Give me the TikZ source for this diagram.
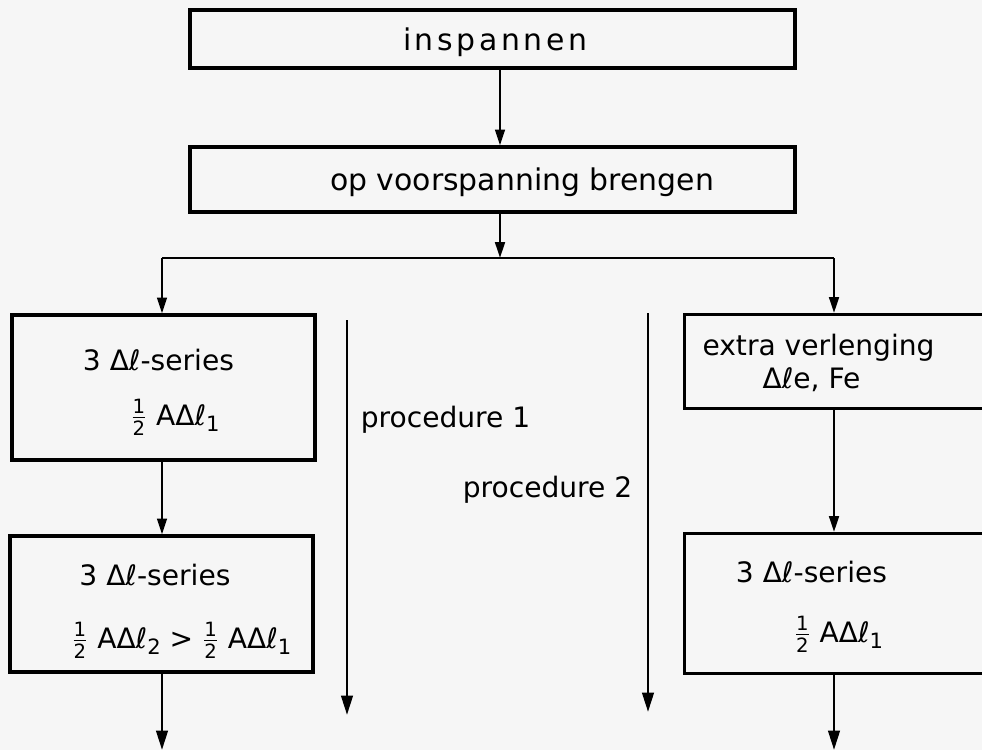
\documentclass[tikz,border=0pt]{standalone}
\usepackage{fontspec}
\setmainfont{DejaVu Sans}
\usepackage{amsmath}
\usetikzlibrary{arrows.meta}
\definecolor{paper}{RGB}{246,246,246}
\newcommand{\hlf}{\ensuremath{\tfrac{\text{1}}{\text{2}}}}
\newcommand{\idx}[1]{\raisebox{-.45ex}{\fontsize{12}{14}\selectfont#1}}

\tikzset{box/.style={draw,line width=1.8pt,inner sep=0pt},
  flow/.style={line width=1.4pt,-{Triangle[length=9pt,width=5.5pt]}},
  longflow/.style={line width=1.6pt,-{Triangle[length=11pt,width=6.5pt]}},
  lbl/.style={anchor=base,inner sep=0pt,font=\fontsize{16}{19}\selectfont}}

\begin{document}
\begin{tikzpicture}
\fill[paper] (0,0) rectangle (19.64,-15);
\clip (0,0) rectangle (19.64,-15);

% first two steps
\node[box,minimum width=12.1cm,minimum height=1.16cm] (insp) at (9.85,-0.78){};\node[lbl,font=\fontsize{17}{20}\selectfont\addfontfeature{LetterSpace=12}] (inspT) at (9.9,-1.0){inspannen};
\node[box,minimum width=12.1cm,minimum height=1.3cm] (voor) at (9.85,-3.59){};\node[lbl,font=\fontsize{17}{20}\selectfont] (voorT) at (10.44,-3.8){op voorspanning brengen};
\coordinate (split) at (10,-5.16);\coordinate (splitL) at (3.24,-5.16);\coordinate (splitR) at (16.68,-5.16);
\draw[flow] (insp.south -| split) -- (voor.north -| split);
\draw[flow] (voor.south -| split) -- (split);
\draw[line width=1.4pt] (splitL) -- (splitR);

% procedure 1
\node[box,minimum width=6.06cm,minimum height=2.9cm] (serA) at (3.27,-7.75){};
\node[lbl] (serA1) at (3.17,-7.4){3 Δℓ-series};\node[lbl] (serA2) at (3.5,-8.5){\hlf{} AΔℓ\idx{1}};
\node[box,minimum width=6.06cm,minimum height=2.72cm] (serB) at (3.23,-12.08){};
\node[lbl] (serB1) at (3.1,-11.7){3 Δℓ-series};\node[lbl] (serB2) at (3.63,-12.96){\hlf{} AΔℓ\idx{2} > \hlf{} AΔℓ\idx{1}};
\coordinate (endL) at (3.24,-15);
\draw[flow] (splitL) -- (splitL |- serA.north);
\draw[flow] (serA.south -| splitL) -- (serB.north -| splitL);
\draw[longflow] (serB.south -| endL) -- (endL);

% procedure 2
\node[box,anchor=north west,minimum width=7cm,minimum height=1.88cm] (extA) at (13.66,-6.26){};
\node[lbl] (extA1) at (16.37,-7.1){extra verlenging};\node[lbl] (extA2) at (16.23,-7.76){Δℓe, Fe};
\node[box,anchor=north west,minimum width=7cm,minimum height=2.8cm] (extB) at (13.66,-10.64){};
\node[lbl] (extB1) at (16.23,-11.64){3 Δℓ-series};\node[lbl] (extB2) at (16.77,-12.84){\hlf{} AΔℓ\idx{1}};
\coordinate (endR) at (16.68,-15);
\draw[flow] (splitR) -- (splitR |- extA.north);
\draw[flow] (extA.south -| splitR) -- (extB.north -| splitR);
\draw[longflow] (extB.south -| endR) -- (endR);

% the two procedures
\coordinate (p1top) at (6.94,-6.4);\coordinate (p1end) at (6.94,-14.3);
\coordinate (p2top) at (12.96,-6.26);\coordinate (p2end) at (12.96,-14.24);
\draw[longflow] (p1top) -- (p1end);
\draw[longflow] (p2top) -- (p2end);
\node[lbl] (proc1) at (8.91,-8.54){procedure 1};
\node[lbl] (proc2) at (10.95,-9.94){procedure 2};
\end{tikzpicture}
\end{document}
